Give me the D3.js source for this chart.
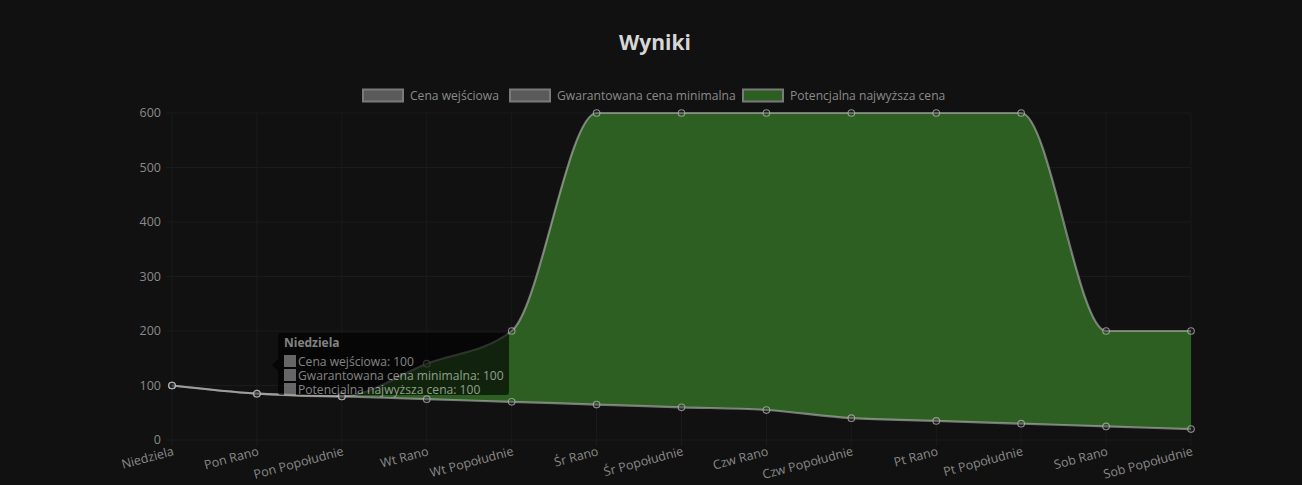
<!DOCTYPE html>
<html><head><meta charset="utf-8">
<script src="https://cdn.jsdelivr.net/npm/d3@7"></script>
<style>
html,body{margin:0;padding:0;background:#111111;}
svg{display:block;}
text{font-family:"Open Sans",sans-serif;}
</style></head><body>
<svg id="c" width="1302" height="485"></svg>
<script>
const categories = ["Niedziela","Pon Rano","Pon Popołudnie","Wt Rano","Wt Popołudnie","Śr Rano","Śr Popołudnie","Czw Rano","Czw Popołudnie","Pt Rano","Pt Popołudnie","Sob Rano","Sob Popołudnie"];
const cenaWejsciowa = [100,null,null,null,null,null,null,null,null,null,null,null,null];
const gwarantowana = [100,85,80,75,70,65,60,55,40,35,30,25,20];
const potencjalna = [100,85,80,140,200,600,600,600,600,600,600,200,200];
const yTicks = [0,100,200,300,400,500,600];
const seriesNames = ["Cena wejściowa","Gwarantowana cena minimalna","Potencjalna najwyższa cena"];

const svg = d3.select("#c");
const m = {left:172, right:1191, top:113, bottom:440};
const x = d3.scalePoint().domain(categories).range([m.left, m.right]);
const y = d3.scaleLinear().domain([0,600]).range([m.bottom, m.top]);

// title
svg.append("text").attr("x",655).attr("y",50).attr("text-anchor","middle")
  .attr("font-size",21).attr("font-weight","bold").attr("fill","#d6d6d6").text("Wyniki");

// grid
const gridColor = "#1b1b1b";
svg.append("g").selectAll("line").data(categories).join("line")
  .attr("x1",d=>x(d)).attr("x2",d=>x(d)).attr("y1",m.top).attr("y2",m.bottom+6)
  .attr("stroke",gridColor).attr("stroke-width",1);
svg.append("g").selectAll("line").data(yTicks).join("line")
  .attr("x1",m.left-6).attr("x2",m.right).attr("y1",d=>y(d)).attr("y2",d=>y(d))
  .attr("stroke",gridColor).attr("stroke-width",1);

// y axis labels
const yAxis = d3.axisLeft(y).tickValues(yTicks).tickSize(0).tickPadding(11);
const yg = svg.append("g").attr("transform",`translate(${m.left},0)`).call(yAxis);
yg.select(".domain").remove();
yg.selectAll("text").attr("fill","#8a8a8a").attr("font-size",12.5).attr("font-family","'Open Sans',sans-serif")
  .attr("dy","0.3em");

// x axis labels
const xAxis = d3.axisBottom(x).tickSize(0).tickPadding(0);
const xg = svg.append("g").attr("transform",`translate(0,${m.bottom})`).call(xAxis);
xg.select(".domain").remove();
xg.selectAll("text").attr("fill","#8a8a8a").attr("font-size",12.5).attr("font-family","'Open Sans',sans-serif")
  .attr("text-anchor","end").attr("dy",0)
  .attr("transform","translate(2,15) rotate(-15)");

// area fill between series
const idx = d3.range(categories.length);
const area = d3.area().curve(d3.curveMonotoneX)
  .x(i=>x(categories[i])).y0(i=>y(gwarantowana[i])).y1(i=>y(potencjalna[i]));
svg.append("path").datum(idx).attr("d",area).attr("fill","#2d5e22");

const line = (arr)=>d3.line().defined(i=>arr[i]!=null).curve(d3.curveMonotoneX)
  .x(i=>x(categories[i])).y(i=>y(arr[i]));
const lineColor = "rgba(185,185,185,0.6)";
[gwarantowana, potencjalna].forEach(arr=>{
  svg.append("path").datum(idx).attr("d",line(arr)).attr("fill","none")
    .attr("stroke",lineColor).attr("stroke-width",2.2);
});
// points
[cenaWejsciowa, gwarantowana, potencjalna].forEach(arr=>{
  svg.append("g").selectAll("circle").data(idx.filter(i=>arr[i]!=null)).join("circle")
    .attr("cx",i=>x(categories[i])).attr("cy",i=>y(arr[i])).attr("r",3.3)
    .attr("fill","rgba(40,40,40,0.3)").attr("stroke","rgba(190,190,190,0.7)").attr("stroke-width",1.1);
});

// legend
const legendItems = [
  {name:seriesNames[0], x:362, fill:"#5a5a5a"},
  {name:seriesNames[1], x:509, fill:"#5a5a5a"},
  {name:seriesNames[2], x:742, fill:"#2d5e22"}
];
const lg = svg.append("g");
legendItems.forEach(d=>{
  lg.append("rect").attr("x",d.x+1).attr("y",89.5).attr("width",40).attr("height",12)
    .attr("fill",d.fill).attr("stroke","#7a7a7a").attr("stroke-width",2);
  lg.append("text").attr("x",d.x+48).attr("y",100).attr("font-size",12.1).attr("fill","#8a8a8a").text(d.name);
});

// tooltip (Niedziela)
const ti = 0;
const tg = svg.append("g").attr("opacity",0.62);
tg.append("rect").attr("x",278).attr("y",333).attr("width",231).attr("height",62).attr("rx",3)
  .attr("fill","#000");
tg.append("path").attr("d","M278,359 L272,365 L278,371 Z").attr("fill","#000");
tg.append("text").attr("x",284).attr("y",347).attr("font-size",12).attr("font-weight","bold")
  .attr("fill","#c8c8c8").text(categories[ti]);
const tVals = [cenaWejsciowa[ti], gwarantowana[ti], potencjalna[ti]];
seriesNames.forEach((n,k)=>{
  const yy = 355 + k*14;
  tg.append("rect").attr("x",284).attr("y",yy).attr("width",12).attr("height",12).attr("fill","#9a9a9a");
  tg.append("text").attr("x",298).attr("y",yy+10.5).attr("font-size",12.1).attr("fill","#c8c8c8")
    .text(`${n}: ${tVals[k]}`);
});
</script>
</body></html>
